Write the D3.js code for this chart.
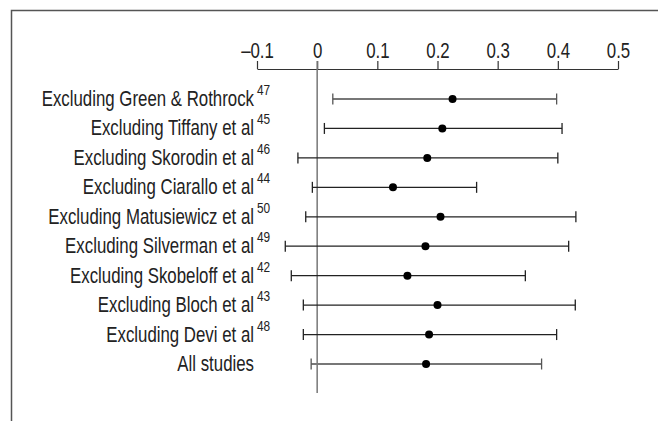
<!DOCTYPE html>
<html>
<head>
<meta charset="utf-8">
<script src="https://cdn.jsdelivr.net/npm/d3@7"></script>
<style>
  body { margin: 0; background: #fff; }
  svg { display: block; }
</style>
</head>
<body>
<div id="chart"></div>
<script>
(() => {
  const width = 658;
  const height = 421;

  // study labels, superscript reference numbers and estimates (with 95% CI)
  const studies = [
    "Excluding Green & Rothrock", "Excluding Tiffany et al", "Excluding Skorodin et al",
    "Excluding Ciarallo et al", "Excluding Matusiewicz et al", "Excluding Silverman et al",
    "Excluding Skobeloff et al", "Excluding Bloch et al", "Excluding Devi et al", "All studies"
  ];
  const refs = ["47", "45", "46", "44", "50", "49", "42", "43", "48", ""];
  const estimate = [0.225, 0.208, 0.183, 0.126, 0.205, 0.180, 0.150, 0.200, 0.186, 0.181];
  const lower = [0.026, 0.012, -0.032, -0.008, -0.019, -0.053, -0.043, -0.023, -0.023, -0.010];
  const upper = [0.398, 0.407, 0.400, 0.265, 0.430, 0.418, 0.346, 0.429, 0.398, 0.373];
  const ticks = [-0.1, 0, 0.1, 0.2, 0.3, 0.4, 0.5];

  const rows = studies.map((name, i) => ({
    name, ref: refs[i], est: estimate[i], lo: lower[i], hi: upper[i], i
  }));

  // no narrow font installed -> squeeze Liberation Sans horizontally
  const font = "'Liberation Sans', Arial, sans-serif";
  const squeeze = 0.765;

  const x = d3.scaleLinear().domain([-0.1, 0.5]).range([257, 618]);
  const y = d3.scalePoint().domain(studies).range([99, 364]);
  const axisY = 69;

  const svg = d3.select("#chart").append("svg")
    .attr("width", width)
    .attr("height", height)
    .attr("viewBox", `0 0 ${width} ${height}`);

  // frame (top + left only)
  svg.append("path")
    .attr("d", `M11.5,${height} V10.5 H${width}`)
    .attr("fill", "none")
    .attr("stroke", "#555")
    .attr("stroke-width", 1.5);

  // axis on top
  const axis = svg.append("g")
    .attr("transform", `translate(0,${axisY})`)
    .call(d3.axisTop(x)
      .tickValues(ticks)
      .tickSize(8)
      .tickSizeOuter(0)
      .tickPadding(3)
      .tickFormat(d => d === 0 ? "0" : (d < 0 ? "\u2013" : "") + Math.abs(d).toFixed(1)));
  axis.select(".domain").attr("stroke", "#333").attr("stroke-width", 1.2);
  axis.selectAll(".tick line").attr("stroke", "#333").attr("stroke-width", 1.2);
  axis.selectAll(".tick text")
    .attr("font-family", font)
    .attr("font-size", 22)
    .attr("fill", "#222")
    .attr("transform", `scale(${squeeze},1)`)
    .attr("x", 0);

  // zero reference line
  svg.append("line")
    .attr("x1", x(0)).attr("x2", x(0))
    .attr("y1", axisY - 8).attr("y2", 393)
    .attr("stroke", "#777")
    .attr("stroke-width", 1.5);

  const row = svg.append("g").selectAll("g")
    .data(rows)
    .join("g")
    .attr("transform", d => `translate(0,${y(d.name)})`);

  const grey = d => d.i === 0 || d.i === rows.length - 1;

  row.append("line")
    .attr("x1", d => x(d.lo)).attr("x2", d => x(d.hi))
    .attr("stroke", d => grey(d) ? "#777" : "#222")
    .attr("stroke-width", d => grey(d) ? 2 : 1.3);

  row.selectAll(".cap")
    .data(d => [d.lo, d.hi].map(v => ({ v, g: grey(d) })))
    .join("line")
    .attr("class", "cap")
    .attr("x1", c => x(c.v)).attr("x2", c => x(c.v))
    .attr("y1", -5.5).attr("y2", 5.5)
    .attr("stroke", c => c.g ? "#555" : "#222")
    .attr("stroke-width", 1.3);

  row.append("circle")
    .attr("cx", d => x(d.est))
    .attr("r", 4)
    .attr("fill", "#000");

  // labels with superscript refs
  row.append("text")
    .attr("transform", `translate(254,7) scale(${squeeze},1)`)
    .attr("text-anchor", "end")
    .attr("font-family", font)
    .attr("font-size", 22)
    .attr("fill", "#222")
    .text(d => d.name);

  row.append("text")
    .attr("transform", `translate(257,-4) scale(${squeeze},1)`)
    .attr("font-family", font)
    .attr("font-size", 15.5)
    .attr("fill", "#222")
    .text(d => d.ref);
})();
</script>
</body>
</html>
